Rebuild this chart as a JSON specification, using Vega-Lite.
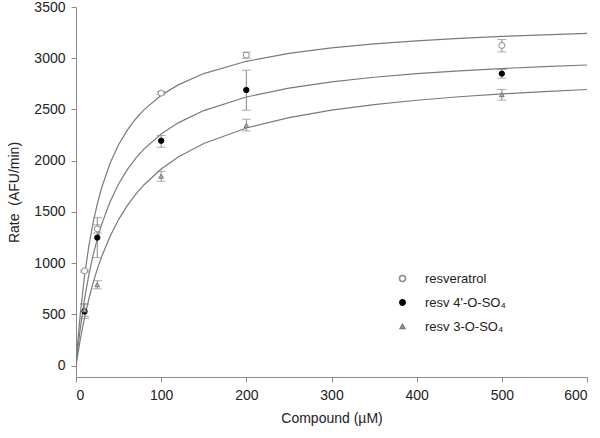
{
  "$schema": "https://vega.github.io/schema/vega-lite/v6.json",
  "width": 511,
  "height": 370,
  "autosize": "none",
  "padding": {"left": 76, "top": 7, "right": 13, "bottom": 61},
  "background": "white",
  "config": {
    "view": {"stroke": null},
    "font": "Liberation Sans",
    "axis": {
      "grid": false,
      "domainColor": "#8a8a8a",
      "tickColor": "#8a8a8a",
      "tickSize": 5,
      "labelColor": "#222",
      "titleColor": "#222",
      "labelFont": "Liberation Sans",
      "titleFont": "Liberation Sans",
      "labelFontSize": 14,
      "titleFontSize": 14,
      "titleFontWeight": "normal",
      "labelPadding": 6,
      "format": "d"
    },
    "legend": {
      "labelFont": "Liberation Sans",
      "labelFontSize": 13,
      "labelColor": "#222"
    }
  },
  "datasets": {
    "points": [
      {"series": "resveratrol", "x": 10, "y": 925, "lo": 915, "hi": 935},
      {"series": "resveratrol", "x": 25, "y": 1335, "lo": 1295, "hi": 1375},
      {"series": "resveratrol", "x": 100, "y": 2660, "lo": 2645, "hi": 2675},
      {"series": "resveratrol", "x": 200, "y": 3030, "lo": 3000, "hi": 3060},
      {"series": "resveratrol", "x": 500, "y": 3125, "lo": 3062, "hi": 3183},
      {"series": "resv 4'-O-SO₄", "x": 10, "y": 530, "lo": 460, "hi": 600},
      {"series": "resv 4'-O-SO₄", "x": 25, "y": 1250, "lo": 1055, "hi": 1445},
      {"series": "resv 4'-O-SO₄", "x": 100, "y": 2195, "lo": 2132, "hi": 2246},
      {"series": "resv 4'-O-SO₄", "x": 200, "y": 2690, "lo": 2493, "hi": 2884},
      {"series": "resv 4'-O-SO₄", "x": 500, "y": 2850, "lo": 2805, "hi": 2890},
      {"series": "resv 3-O-SO₄", "x": 10, "y": 545, "lo": 481, "hi": 605},
      {"series": "resv 3-O-SO₄", "x": 25, "y": 790, "lo": 750, "hi": 830},
      {"series": "resv 3-O-SO₄", "x": 100, "y": 1850, "lo": 1800, "hi": 1897},
      {"series": "resv 3-O-SO₄", "x": 200, "y": 2345, "lo": 2291, "hi": 2405},
      {"series": "resv 3-O-SO₄", "x": 500, "y": 2645, "lo": 2591, "hi": 2695}
    ],
    "curves": [
      {"series": "a", "x": 0, "y": 0},
      {"series": "a", "x": 2, "y": 220.6},
      {"series": "a", "x": 5, "y": 502.7},
      {"series": "a", "x": 10, "y": 875.8},
      {"series": "a", "x": 15, "y": 1163.7},
      {"series": "a", "x": 20, "y": 1392.6},
      {"series": "a", "x": 25, "y": 1579.0},
      {"series": "a", "x": 30, "y": 1733.7},
      {"series": "a", "x": 40, "y": 1975.6},
      {"series": "a", "x": 50, "y": 2156.1},
      {"series": "a", "x": 60, "y": 2296.0},
      {"series": "a", "x": 70, "y": 2407.5},
      {"series": "a", "x": 80, "y": 2498.5},
      {"series": "a", "x": 100, "y": 2638.2},
      {"series": "a", "x": 120, "y": 2740.3},
      {"series": "a", "x": 150, "y": 2850.7},
      {"series": "a", "x": 200, "y": 2970.3},
      {"series": "a", "x": 250, "y": 3047.0},
      {"series": "a", "x": 300, "y": 3100.4},
      {"series": "a", "x": 350, "y": 3139.6},
      {"series": "a", "x": 400, "y": 3169.8},
      {"series": "a", "x": 450, "y": 3193.6},
      {"series": "a", "x": 500, "y": 3212.9},
      {"series": "a", "x": 550, "y": 3228.9},
      {"series": "a", "x": 600, "y": 3242.4},
      {"series": "b", "x": 0, "y": 0},
      {"series": "b", "x": 2, "y": 156.0},
      {"series": "b", "x": 5, "y": 362.8},
      {"series": "b", "x": 10, "y": 650.0},
      {"series": "b", "x": 15, "y": 883.0},
      {"series": "b", "x": 20, "y": 1075.9},
      {"series": "b", "x": 25, "y": 1238.1},
      {"series": "b", "x": 30, "y": 1376.5},
      {"series": "b", "x": 40, "y": 1600.0},
      {"series": "b", "x": 50, "y": 1772.7},
      {"series": "b", "x": 60, "y": 1910.2},
      {"series": "b", "x": 70, "y": 2022.2},
      {"series": "b", "x": 80, "y": 2115.3},
      {"series": "b", "x": 100, "y": 2260.9},
      {"series": "b", "x": 120, "y": 2369.6},
      {"series": "b", "x": 150, "y": 2489.4},
      {"series": "b", "x": 200, "y": 2621.8},
      {"series": "b", "x": 250, "y": 2708.3},
      {"series": "b", "x": 300, "y": 2769.2},
      {"series": "b", "x": 350, "y": 2814.4},
      {"series": "b", "x": 400, "y": 2849.3},
      {"series": "b", "x": 450, "y": 2877.0},
      {"series": "b", "x": 500, "y": 2899.6},
      {"series": "b", "x": 550, "y": 2918.4},
      {"series": "b", "x": 600, "y": 2934.2},
      {"series": "c", "x": 0, "y": 0},
      {"series": "c", "x": 2, "y": 107.0},
      {"series": "c", "x": 5, "y": 253.6},
      {"series": "c", "x": 10, "y": 466.9},
      {"series": "c", "x": 15, "y": 648.7},
      {"series": "c", "x": 20, "y": 805.5},
      {"series": "c", "x": 25, "y": 942.2},
      {"series": "c", "x": 30, "y": 1062.3},
      {"series": "c", "x": 40, "y": 1263.8},
      {"series": "c", "x": 50, "y": 1426.1},
      {"series": "c", "x": 60, "y": 1559.6},
      {"series": "c", "x": 70, "y": 1671.3},
      {"series": "c", "x": 80, "y": 1766.3},
      {"series": "c", "x": 100, "y": 1918.8},
      {"series": "c", "x": 120, "y": 2036.1},
      {"series": "c", "x": 150, "y": 2168.6},
      {"series": "c", "x": 200, "y": 2319.6},
      {"series": "c", "x": 250, "y": 2420.7},
      {"series": "c", "x": 300, "y": 2493.2},
      {"series": "c", "x": 350, "y": 2547.7},
      {"series": "c", "x": 400, "y": 2590.1},
      {"series": "c", "x": 450, "y": 2624.1},
      {"series": "c", "x": 500, "y": 2652.0},
      {"series": "c", "x": 550, "y": 2675.2},
      {"series": "c", "x": 600, "y": 2694.9}
    ]
  },
  "encoding": {
    "x": {
      "field": "x", "type": "quantitative",
      "scale": {"domain": [0, 600], "nice": false, "zero": false},
      "axis": {"values": [0, 100, 200, 300, 400, 500, 600], "title": "Compound (µM)", "titlePadding": 9}
    }
  },
  "layer": [
    {
      "data": {"name": "curves"},
      "mark": {"type": "line", "color": "#7a7a7a", "strokeWidth": 1.2, "clip": true},
      "encoding": {
        "y": {
          "field": "y", "type": "quantitative",
          "scale": {"domain": [-110, 3500], "nice": false, "zero": false},
          "axis": {"values": [0, 500, 1000, 1500, 2000, 2500, 3000, 3500], "title": "Rate\u00a0\u00a0(AFU/min)", "titlePadding": 12}
        },
        "detail": {"field": "series"}
      }
    },
    {
      "data": {"name": "points"},
      "mark": {"type": "rule", "color": "#8a8a8a", "strokeWidth": 1},
      "encoding": {
        "y": {"field": "lo", "type": "quantitative"},
        "y2": {"field": "hi"}
      }
    },
    {
      "data": {"name": "points"},
      "mark": {"type": "tick", "orient": "horizontal", "color": "#8a8a8a", "size": 9, "thickness": 1},
      "encoding": {
        "y": {"field": "lo", "type": "quantitative"}
      }
    },
    {
      "data": {"name": "points"},
      "mark": {"type": "tick", "orient": "horizontal", "color": "#8a8a8a", "size": 9, "thickness": 1},
      "encoding": {
        "y": {"field": "hi", "type": "quantitative"}
      }
    },
    {
      "data": {"name": "points"},
      "mark": {"type": "point", "filled": true, "strokeWidth": 1, "opacity": 1},
      "encoding": {
        "y": {"field": "y", "type": "quantitative"},
        "shape": {
          "field": "series", "type": "nominal",
          "scale": {"domain": ["resveratrol", "resv 4'-O-SO₄", "resv 3-O-SO₄"], "range": ["circle", "circle", "triangle-up"]},
          "legend": {"orient": "none", "legendX": 320, "legendY": 265, "title": null, "rowPadding": 10, "labelOffset": 16, "padding": 0}
        },
        "size": {
          "field": "series", "type": "nominal",
          "scale": {"domain": ["resveratrol", "resv 4'-O-SO₄", "resv 3-O-SO₄"], "range": [36, 22, 40]}
        },
        "fill": {
          "field": "series", "type": "nominal",
          "scale": {"domain": ["resveratrol", "resv 4'-O-SO₄", "resv 3-O-SO₄"], "range": ["white", "black", "#b0b0b0"]}
        },
        "stroke": {
          "field": "series", "type": "nominal",
          "scale": {"domain": ["resveratrol", "resv 4'-O-SO₄", "resv 3-O-SO₄"], "range": ["#8a8a8a", "black", "#7a7a7a"]}
        }
      }
    }
  ]
}
